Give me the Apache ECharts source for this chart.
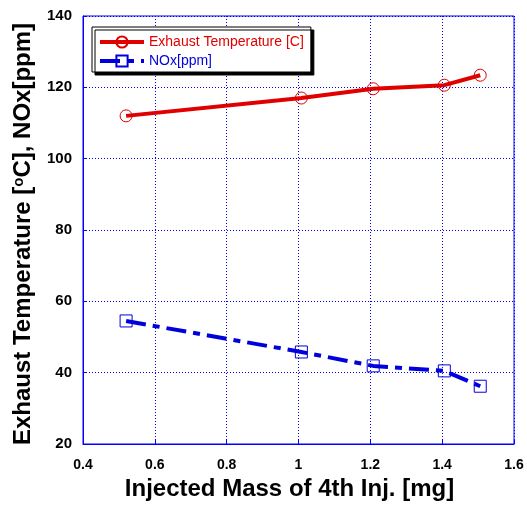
<!DOCTYPE html>
<html><head><meta charset="utf-8">
<script src="https://cdn.jsdelivr.net/npm/echarts@6/dist/echarts.min.js"></script>
<style>html,body{margin:0;padding:0;background:#fff}#c{width:527px;height:508px}</style>
</head><body><div id="c"></div>
<script>
const injectedMass = [0.52, 1.008, 1.208, 1.406, 1.506];
const exhaustTemp = [112, 117, 119.6, 120.6, 123.4];
const noxPpm = [54.5, 45.8, 41.9, 40.5, 36.2];
const xTicks = [0.4, 0.6, 0.8, 1.0, 1.2, 1.4, 1.6];
const yTicks = [20, 40, 60, 80, 100, 120, 140];

const chart = echarts.init(document.getElementById('c'), null, {renderer: 'canvas'});
const font = 'Liberation Sans, Arial, sans-serif';
chart.setOption({
  animation: false,
  backgroundColor: '#fff',
  grid: {left: 83, right: 13, top: 16, bottom: 64, show: true, borderColor: '#0000ff', borderWidth: 1},
  xAxis: {
    type: 'value', min: xTicks[0], max: xTicks[xTicks.length-1], interval: 0.2,
    name: 'Injected Mass of 4th Inj. [mg]', nameLocation: 'middle', nameGap: 27,
    nameTextStyle: {fontFamily: font, fontWeight: 'bold', fontSize: 24, color: '#000', padding: [0, 18, 0, 0]},
    axisLine: {show: true, lineStyle: {color: '#0000ff', width: 1}},
    axisTick: {show: true, inside: true, length: 4, lineStyle: {color: '#0000ff'}},
    axisLabel: {fontFamily: font, fontWeight: 'bold', fontSize: 14, color: '#000', margin: 14,
      formatter: v => { const r = Math.round(v*10)/10; return r === 1 ? '1' : r.toFixed(1); }},
    splitLine: {show: true, lineStyle: {color: '#0000ff', type: [1, 2], width: 1}}
  },
  yAxis: {
    type: 'value', min: yTicks[0], max: yTicks[yTicks.length-1], interval: 20,
    name: '{a|Exhaust Temperature [}{s|o}{a|C], NOx[ppm]}', nameLocation: 'middle', nameGap: 47,
    nameTextStyle: {padding: [0, 8, 0, 0], rich: {
      a: {fontFamily: font, fontWeight: 'bold', fontSize: 24, color: '#000'},
      s: {fontFamily: font, fontWeight: 'bold', fontSize: 15, color: '#000', verticalAlign: 'top', padding: [0,0,10,0]}
    }},
    axisLine: {show: true, lineStyle: {color: '#0000ff', width: 1}},
    axisTick: {show: true, inside: true, length: 4, lineStyle: {color: '#0000ff'}},
    axisLabel: {fontFamily: font, fontWeight: 'bold', fontSize: 15, color: '#000', margin: 11},
    splitLine: {show: true, lineStyle: {color: '#0000ff', type: [1, 2], width: 1}}
  },
  legend: {
    orient: 'vertical', left: 92, top: 27, itemWidth: 44, itemHeight: 14, itemGap: 5,
    padding: [8, 7, 4, 6],
    backgroundColor: '#fff', borderColor: '#000', borderWidth: 1,
    shadowColor: '#000', shadowBlur: 0, shadowOffsetX: 3, shadowOffsetY: 3,
    textStyle: {fontFamily: font, fontSize: 14},
    lineStyle: {width: 4},
    data: [
      {name: 'Exhaust Temperature [C]', textStyle: {color: '#e00000'}},
      {name: 'NOx[ppm]', textStyle: {color: '#0000dd'}}
    ]
  },
  series: [
    {
      name: 'Exhaust Temperature [C]', type: 'line',
      data: injectedMass.map((x, i) => [x, exhaustTemp[i]]),
      symbol: 'circle', symbolSize: 12, showAllSymbol: true,
      lineStyle: {color: '#e00000', width: 4},
      itemStyle: {color: 'rgba(255,255,255,0)', borderColor: '#e00000', borderWidth: 1},
      z: 3
    },
    {
      name: 'NOx[ppm]', type: 'line',
      data: injectedMass.map((x, i) => [x, noxPpm[i]]),
      symbol: 'rect', symbolSize: 12, showAllSymbol: true,
      lineStyle: {color: '#0000dd', width: 4, type: [20, 7, 7, 7]},
      itemStyle: {color: 'rgba(255,255,255,0)', borderColor: '#0000dd', borderWidth: 1},
      z: 3
    }
  ]
});
</script></body></html>
